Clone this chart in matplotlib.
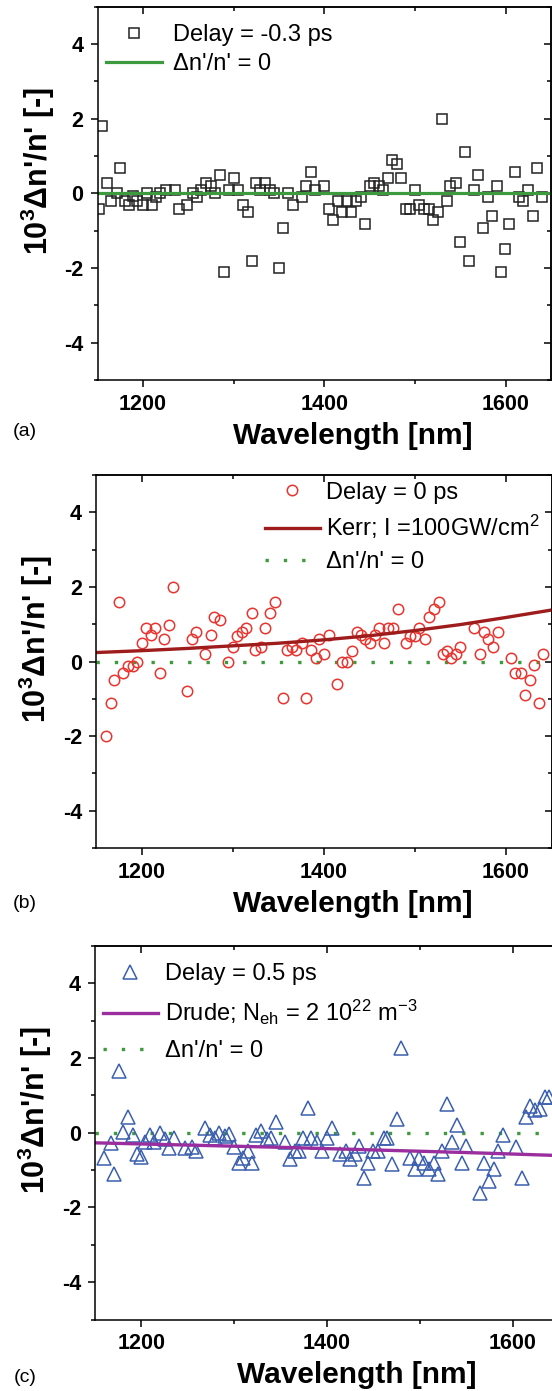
import matplotlib
matplotlib.use('Agg')
import matplotlib.pyplot as plt
from matplotlib.ticker import MultipleLocator

plt.rcParams['font.family'] = ['Liberation Sans', 'DejaVu Sans']
plt.rcParams['mathtext.fontset'] = 'custom'
plt.rcParams['mathtext.rm'] = 'Liberation Sans'
plt.rcParams['mathtext.it'] = 'Liberation Sans:italic'
plt.rcParams['mathtext.bf'] = 'Liberation Sans:bold'
plt.rcParams['axes.unicode_minus'] = False

# (a) delay = -0.3 ps
lam_a = [1152, 1155, 1160, 1165, 1171, 1175, 1180, 1185, 1189, 1194, 1200, 1205,
         1210, 1215, 1219, 1225, 1235, 1240, 1249, 1255, 1260, 1264, 1270, 1275,
         1280, 1285, 1290, 1295, 1300, 1305, 1310, 1316, 1320, 1325, 1329, 1335,
         1340, 1345, 1350, 1355, 1360, 1365, 1375, 1380, 1385, 1390, 1400, 1405,
         1410, 1415, 1420, 1425, 1430, 1435, 1440, 1445, 1450, 1455, 1460, 1465,
         1470, 1475, 1480, 1485, 1490, 1495, 1500, 1505, 1510, 1515, 1520, 1525,
         1530, 1535, 1539, 1545, 1550, 1555, 1560, 1565, 1570, 1575, 1580, 1585,
         1590, 1595, 1599, 1604, 1610, 1615, 1619, 1625, 1630, 1635, 1640]
dn_a = [-0.41, 1.8, 0.28, -0.21, 0.0, 0.69, -0.21, -0.3, -0.07, -0.21, -0.3, 0.0,
        -0.3, -0.1, 0.0, 0.1, 0.1, -0.41, -0.3, 0.0, -0.1, 0.1, 0.28, 0.19,
        0.0, 0.5, -2.1, 0.1, 0.4, 0.1, -0.3, -0.51, -1.8, 0.28, 0.1, 0.28,
        0.1, 0.0, -2.0, -0.92, 0.0, -0.3, -0.1, 0.19, 0.58, 0.1, 0.19, -0.41,
        -0.72, -0.21, -0.51, -0.21, -0.51, -0.21, -0.1, -0.81, 0.19, 0.28, 0.19, 0.1,
        0.4, 0.9, 0.78, 0.4, -0.41, -0.41, 0.1, -0.3, -0.41, -0.41, -0.72, -0.51,
        2.0, -0.21, 0.19, 0.28, -1.3, 1.1, -1.8, 0.1, 0.5, -0.92, -0.1, -0.62,
        0.19, -2.1, -1.5, -0.81, 0.58, -0.1, -0.21, 0.1, -0.62, 0.69, -0.1]

# (b) delay = 0 ps
lam_b = [1161, 1166, 1170, 1175, 1180, 1185, 1191, 1195, 1201, 1205, 1210, 1215,
         1220, 1225, 1230, 1235, 1250, 1255, 1260, 1270, 1276, 1280, 1286, 1295,
         1300, 1305, 1310, 1315, 1321, 1325, 1331, 1335, 1341, 1346, 1355, 1360,
         1365, 1370, 1376, 1381, 1386, 1391, 1395, 1400, 1406, 1415, 1420, 1425,
         1431, 1436, 1441, 1445, 1451, 1456, 1461, 1466, 1471, 1476, 1481, 1490,
         1495, 1500, 1505, 1511, 1516, 1521, 1526, 1531, 1535, 1540, 1545, 1550,
         1565, 1571, 1576, 1580, 1586, 1591, 1606, 1610, 1616, 1621, 1626, 1631,
         1636, 1641]
dn_b = [-2.0, -1.1, -0.5, 1.59, -0.3, -0.13, -0.13, 0.0, 0.5, 0.89, 0.7, 0.89,
        -0.3, 0.6, 0.99, 2.0, -0.8, 0.6, 0.8, 0.2, 0.7, 1.2, 1.1, 0.0,
        0.4, 0.69, 0.8, 0.89, 1.29, 0.31, 0.4, 0.89, 1.29, 1.59, -0.98, 0.31,
        0.4, 0.31, 0.5, -0.98, 0.31, 0.1, 0.6, 0.2, 0.7, -0.6, 0.0, 0.0,
        0.29, 0.8, 0.7, 0.6, 0.5, 0.7, 0.89, 0.5, 0.89, 0.89, 1.4, 0.5,
        0.69, 0.69, 0.89, 0.6, 1.18, 1.4, 1.59, 0.2, 0.29, 0.1, 0.2, 0.4,
        0.89, 0.2, 0.8, 0.6, 0.4, 0.8, 0.1, -0.3, -0.3, -0.9, -0.5, -0.1,
        -1.1, 0.2]
lam_kerr = [1150, 1200, 1250, 1300, 1350, 1400, 1450, 1500, 1550, 1600, 1650]
dn_kerr = [0.24, 0.29, 0.35, 0.42, 0.49, 0.58, 0.69, 0.83, 0.99, 1.18, 1.38]

# (c) delay = 0.5 ps
lam_c = [1160, 1167, 1170, 1176, 1180, 1186, 1191, 1195, 1200, 1204, 1209, 1214,
         1220, 1225, 1230, 1235, 1247, 1254, 1259, 1269, 1274, 1279, 1284, 1290,
         1294, 1300, 1305, 1310, 1315, 1319, 1324, 1329, 1335, 1340, 1345, 1355,
         1360, 1365, 1370, 1374, 1380, 1383, 1389, 1395, 1400, 1405, 1414, 1420,
         1425, 1430, 1435, 1440, 1444, 1450, 1455, 1461, 1465, 1470, 1475, 1480,
         1489, 1495, 1499, 1505, 1510, 1515, 1520, 1524, 1529, 1535, 1540, 1545,
         1550, 1565, 1569, 1575, 1580, 1584, 1590, 1604, 1610, 1614, 1619, 1624,
         1629, 1635, 1639]
dn_c = [-0.67, -0.27, -1.1, 1.65, 0.03, 0.43, -0.07, -0.56, -0.65, -0.24, -0.07, -0.24,
        0.0, -0.18, -0.4, -0.15, -0.4, -0.38, -0.48, 0.14, -0.07, -0.13, 0.0, -0.1,
        -0.03, -0.38, -0.8, -0.67, -0.48, -0.8, -0.07, 0.05, -0.18, -0.13, 0.28, -0.24,
        -0.69, -0.5, -0.48, -0.13, 0.66, -0.13, -0.24, -0.48, -0.15, 0.14, -0.56, -0.5,
        -0.69, -0.58, -0.36, -1.2, -0.8, -0.48, -0.48, -0.15, -0.15, -0.85, 0.36, 2.26,
        -0.67, -0.98, -0.67, -0.8, -0.98, -0.8, -1.1, -0.48, 0.78, -0.24, 0.21, -0.8,
        -0.36, -1.6, -0.8, -1.3, -0.98, -0.48, -0.07, -0.38, -1.2, 0.43, 0.72, 0.6,
        0.63, 0.97, 0.97]
lam_drude = [1150, 1250, 1350, 1450, 1550, 1650]
dn_drude = [-0.27, -0.33, -0.39, -0.46, -0.53, -0.61]

xticks = [1200, 1400, 1600]
yticks = [-4, -2, 0, 2, 4]
green = '#3d9a3d'

W, H = 552.0, 1391.0
fig = plt.figure(figsize=(W / 100, H / 100), dpi=100)


def make_axes(left, top, right, bottom):
    return fig.add_axes([left / W, 1 - bottom / H, (right - left) / W, (bottom - top) / H])


def style_axes(ax, x_center):
    ax.set_xlim(1150, 1650)
    ax.set_ylim(-5, 5)
    ax.set_xticks(xticks)
    ax.set_yticks(yticks)
    ax.xaxis.set_minor_locator(MultipleLocator(100))
    ax.yaxis.set_minor_locator(MultipleLocator(1))
    ax.tick_params(which='both', direction='out', width=1.1, labelsize=15.5, pad=5)
    ax.tick_params(which='major', length=5)
    ax.tick_params(which='minor', length=3)
    for lab in ax.get_xticklabels() + ax.get_yticklabels():
        lab.set_fontweight('bold')
    for sp in ax.spines.values():
        sp.set_linewidth(1.1)
    # mirrored ticks pointing inwards on top and right
    top = ax.secondary_xaxis('top')
    top.set_xticks(xticks)
    top.xaxis.set_minor_locator(MultipleLocator(100))
    top.tick_params(which='both', direction='in', width=1.1, labeltop=False)
    top.tick_params(which='major', length=5)
    top.tick_params(which='minor', length=3)
    right = ax.secondary_yaxis('right')
    right.set_yticks(yticks)
    right.yaxis.set_minor_locator(MultipleLocator(1))
    right.tick_params(which='both', direction='in', width=1.1, labelright=False)
    right.tick_params(which='major', length=5)
    right.tick_params(which='minor', length=3)
    for s in (top, right):
        for sp in s.spines.values():
            sp.set_linewidth(1.1)

    ax.set_ylabel("10$^\\mathbf{3}$\u0394n'/n' [-]", fontsize=22, fontweight='bold')
    ax.yaxis.set_label_coords(-0.089, 0.56)
    ax.set_xlabel('Wavelength [nm]', fontsize=21.5, fontweight='bold')
    ax.xaxis.set_label_coords(x_center, -0.112)


# panel (a)
ax_a = make_axes(97.5, 6.7, 551, 380)
h1, = ax_a.plot(lam_a, dn_a, 's', ms=6.8, mfc='none', mec='#222222', mew=1.1,
                label='Delay = -0.3 ps')
h2 = ax_a.axhline(0, color=green, lw=2.3, label="\u0394n'/n' = 0")
style_axes(ax_a, 0.563)
ax_a.legend(handles=[h1, h2], loc='upper left', bbox_to_anchor=(0.019, 0.953),
            borderaxespad=0, borderpad=0, frameon=False, fontsize=17,
            handlelength=2.37, handletextpad=0.45, labelspacing=0.3)

# panel (b)
ax_b = make_axes(96, 475, 551.5, 848)
z_b = ax_b.axhline(0, color=green, lw=2.4, ls=(0, (1, 4.5)),
                   label="\u0394n'/n' = 0")
c1, = ax_b.plot(lam_b, dn_b, 'o', ms=7.5, mfc='none', mec='#e8352f', mew=1.1,
                label='Delay = 0 ps')
k1, = ax_b.plot(lam_kerr, dn_kerr, '-', color='#9e1c1c', lw=2.4,
                label='Kerr; I =100GW/cm$^\\mathregular{2}$')
style_axes(ax_b, 0.564)
ax_b.legend(handles=[c1, k1, z_b], loc='upper left', bbox_to_anchor=(0.371, 0.982),
            borderaxespad=0, borderpad=0, frameon=False, fontsize=17,
            handlelength=2.33, handletextpad=0.25, labelspacing=0.4)

# panel (c)
ax_c = make_axes(95, 946, 559, 1319.5)
z_c = ax_c.axhline(0, color=green, lw=2.4, ls=(0, (1, 4.5)),
                   label="\u0394n'/n' = 0")
t1, = ax_c.plot(lam_c, dn_c, '^', ms=9.5, mfc='none', mec='#3b5fae', mew=1.1,
                label='Delay = 0.5 ps')
d1, = ax_c.plot(lam_drude, dn_drude, '-', color='#9a2e9e', lw=2.4,
                label='Drude; N$_\\mathregular{eh}$ = 2 10$^\\mathregular{22}$ m$^\\mathregular{-3}$')
style_axes(ax_c, 0.564)
ax_c.legend(handles=[t1, d1, z_c], loc='upper left', bbox_to_anchor=(0.017, 0.955),
            borderaxespad=0, borderpad=0, frameon=False, fontsize=17,
            handlelength=2.33, handletextpad=0.3, labelspacing=0.55)

fig.text(25 / W, 1 - 432 / H, '(a)', ha='center', va='center', fontsize=14)
fig.text(25 / W, 1 - 903 / H, '(b)', ha='center', va='center', fontsize=14)
fig.text(25 / W, 1 - 1377 / H, '(c)', ha='center', va='center', fontsize=14)

fig.savefig('out.png', dpi=100)
